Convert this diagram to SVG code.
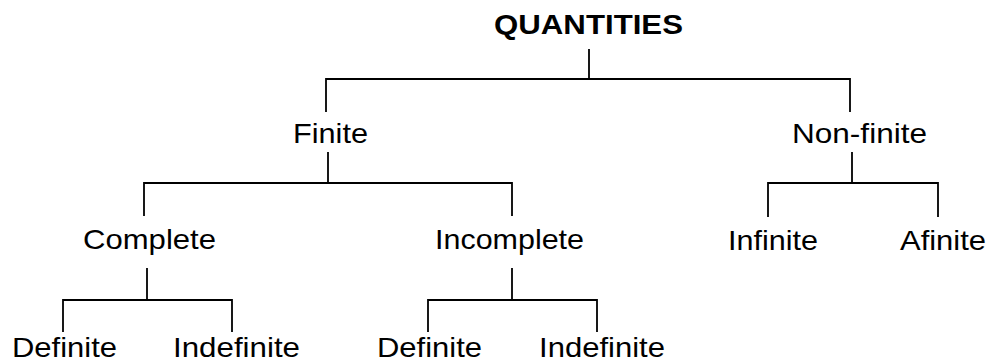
<svg xmlns="http://www.w3.org/2000/svg" width="989" height="360" viewBox="0 0 989 360">
<style>
text{font-family:"Liberation Sans",Arial,sans-serif;font-size:28px;fill:#000}
.b{font-weight:bold}
.c path{fill:none;stroke:#000;stroke-width:1.8}
</style>
<rect width="989" height="360" fill="#fff"/>
<g class="c" id="connectors">
<path d="M589 49V79M326 112V79H850V112"/>
<path d="M328 152V183M144 216V183H512V216"/>
<path d="M852 152V183M768 217V183H938V217"/>
<path d="M147 268V300M63 332V300H232V332"/>
<path d="M512 268V300M428 332V300H597V332"/>
</g>
<g id="quantities"><text class="b" x="494" y="34" textLength="189" lengthAdjust="spacingAndGlyphs">QUANTITIES</text></g>
<g id="finite"><text x="293" y="143" textLength="75" lengthAdjust="spacingAndGlyphs">Finite</text></g>
<g id="nonfinite"><text x="792" y="143" textLength="135" lengthAdjust="spacingAndGlyphs">Non-finite</text></g>
<g id="complete"><text x="83" y="249" textLength="133" lengthAdjust="spacingAndGlyphs">Complete</text></g>
<g id="incomplete"><text x="435" y="249" textLength="149" lengthAdjust="spacingAndGlyphs">Incomplete</text></g>
<g id="infinite"><text x="728" y="250" textLength="90" lengthAdjust="spacingAndGlyphs">Infinite</text></g>
<g id="afinite"><text x="900" y="250" textLength="86" lengthAdjust="spacingAndGlyphs">Afinite</text></g>
<g id="definite1"><text x="12" y="357" textLength="105" lengthAdjust="spacingAndGlyphs">Definite</text></g>
<g id="indefinite1"><text x="173" y="357" textLength="127" lengthAdjust="spacingAndGlyphs">Indefinite</text></g>
<g id="definite2"><text x="377" y="357" textLength="105" lengthAdjust="spacingAndGlyphs">Definite</text></g>
<g id="indefinite2"><text x="539" y="357" textLength="126" lengthAdjust="spacingAndGlyphs">Indefinite</text></g>
</svg>
